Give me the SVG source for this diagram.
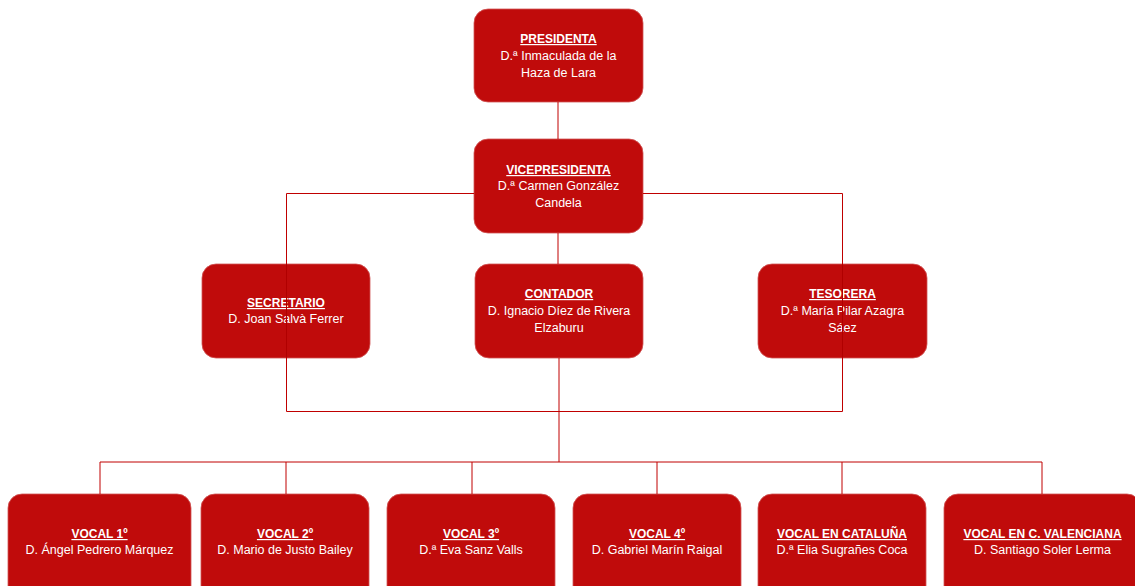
<svg xmlns="http://www.w3.org/2000/svg" width="1135" height="586" viewBox="0 0 1135 586">
<style>
.box{fill:#c00b0b;stroke:#d05555;stroke-width:0.8}
.t{font-family:"Liberation Sans",Arial,sans-serif;font-size:12.5px;fill:#ffffff;text-anchor:middle}
.h{font-weight:bold;text-decoration:underline;font-size:12px}
.c{fill:none;stroke:#c00000;stroke-width:1}
.s{fill:none;stroke:#c00000;stroke-width:1}
.in{fill:none;stroke:#b00000;stroke-width:1}
</style>
<rect width="1135" height="586" fill="#ffffff"/>
<g id="presidenta"><rect class="box" x="474" y="9" width="169" height="93" rx="14"/>
<text class="t h" x="558.5" y="43">PRESIDENTA</text>
<text class="t" x="558.5" y="60">D.ª Inmaculada de la</text>
<text class="t" x="558.5" y="77">Haza de Lara</text></g>
<g id="vicepresidenta"><rect class="box" x="474" y="139" width="169" height="94" rx="14"/>
<text class="t h" x="558.5" y="174">VICEPRESIDENTA</text>
<text class="t" x="558.5" y="190">D.ª Carmen González</text>
<text class="t" x="558.5" y="207">Candela</text></g>
<g id="secretario"><rect class="box" x="202" y="264" width="168" height="94" rx="14"/>
<text class="t h" x="286" y="307">SECRETARIO</text>
<text class="t" x="286" y="323">D. Joan Salvà Ferrer</text></g>
<g id="contador"><rect class="box" x="475" y="264" width="168" height="94" rx="14"/>
<text class="t h" x="559" y="298">CONTADOR</text>
<text class="t" x="559" y="315">D. Ignacio Díez de Rivera</text>
<text class="t" x="559" y="332">Elzaburu</text></g>
<g id="tesorera"><rect class="box" x="758" y="264" width="169" height="94" rx="14"/>
<text class="t h" x="842.5" y="298">TESORERA</text>
<text class="t" x="842.5" y="315">D.ª María Pilar Azagra</text>
<text class="t" x="842.5" y="332">Sáez</text></g>
<g id="vocal1"><rect class="box" x="8" y="494" width="183" height="110" rx="14"/>
<text class="t h" x="99.5" y="538">VOCAL 1º</text>
<text class="t" x="99.5" y="554">D. Ángel Pedrero Márquez</text></g>
<g id="vocal2"><rect class="box" x="201" y="494" width="168" height="110" rx="14"/>
<text class="t h" x="285" y="538">VOCAL 2º</text>
<text class="t" x="285" y="554">D. Mario de Justo Bailey</text></g>
<g id="vocal3"><rect class="box" x="387" y="494" width="168" height="110" rx="14"/>
<text class="t h" x="471" y="538">VOCAL 3º</text>
<text class="t" x="471" y="554">D.ª Eva Sanz Valls</text></g>
<g id="vocal4"><rect class="box" x="573" y="494" width="168" height="110" rx="14"/>
<text class="t h" x="657" y="538">VOCAL 4º</text>
<text class="t" x="657" y="554">D. Gabriel Marín Raigal</text></g>
<g id="vocal-cataluna"><rect class="box" x="758" y="494" width="168" height="110" rx="14"/>
<text class="t h" x="842" y="538">VOCAL EN CATALUÑA</text>
<text class="t" x="842" y="554">D.ª Elia Sugrañes Coca</text></g>
<g id="vocal-valenciana"><rect class="box" x="944" y="494" width="197" height="110" rx="14"/>
<text class="t h" x="1042.5" y="538">VOCAL EN C. VALENCIANA</text>
<text class="t" x="1042.5" y="554">D. Santiago Soler Lerma</text></g>
<g id="connectors">
<path class="s" d="M558 102 V139"/>
<path class="s" d="M558 233 V264"/>
<path class="c" d="M286.5 264 V193.5 H474 M643 193.5 H842.5 V264"/>
<path class="c" d="M286.5 358 V411.5 H842.5 V358"/>
<path class="in" d="M286.5 264 V358 M842.5 264 V358"/>
<path class="s" d="M559 358 V462 M100 494 V462 H1042 V494 M286 462 V494 M472 462 V494 M657 462 V494 M842 462 V494"/>
</g>
</svg>
